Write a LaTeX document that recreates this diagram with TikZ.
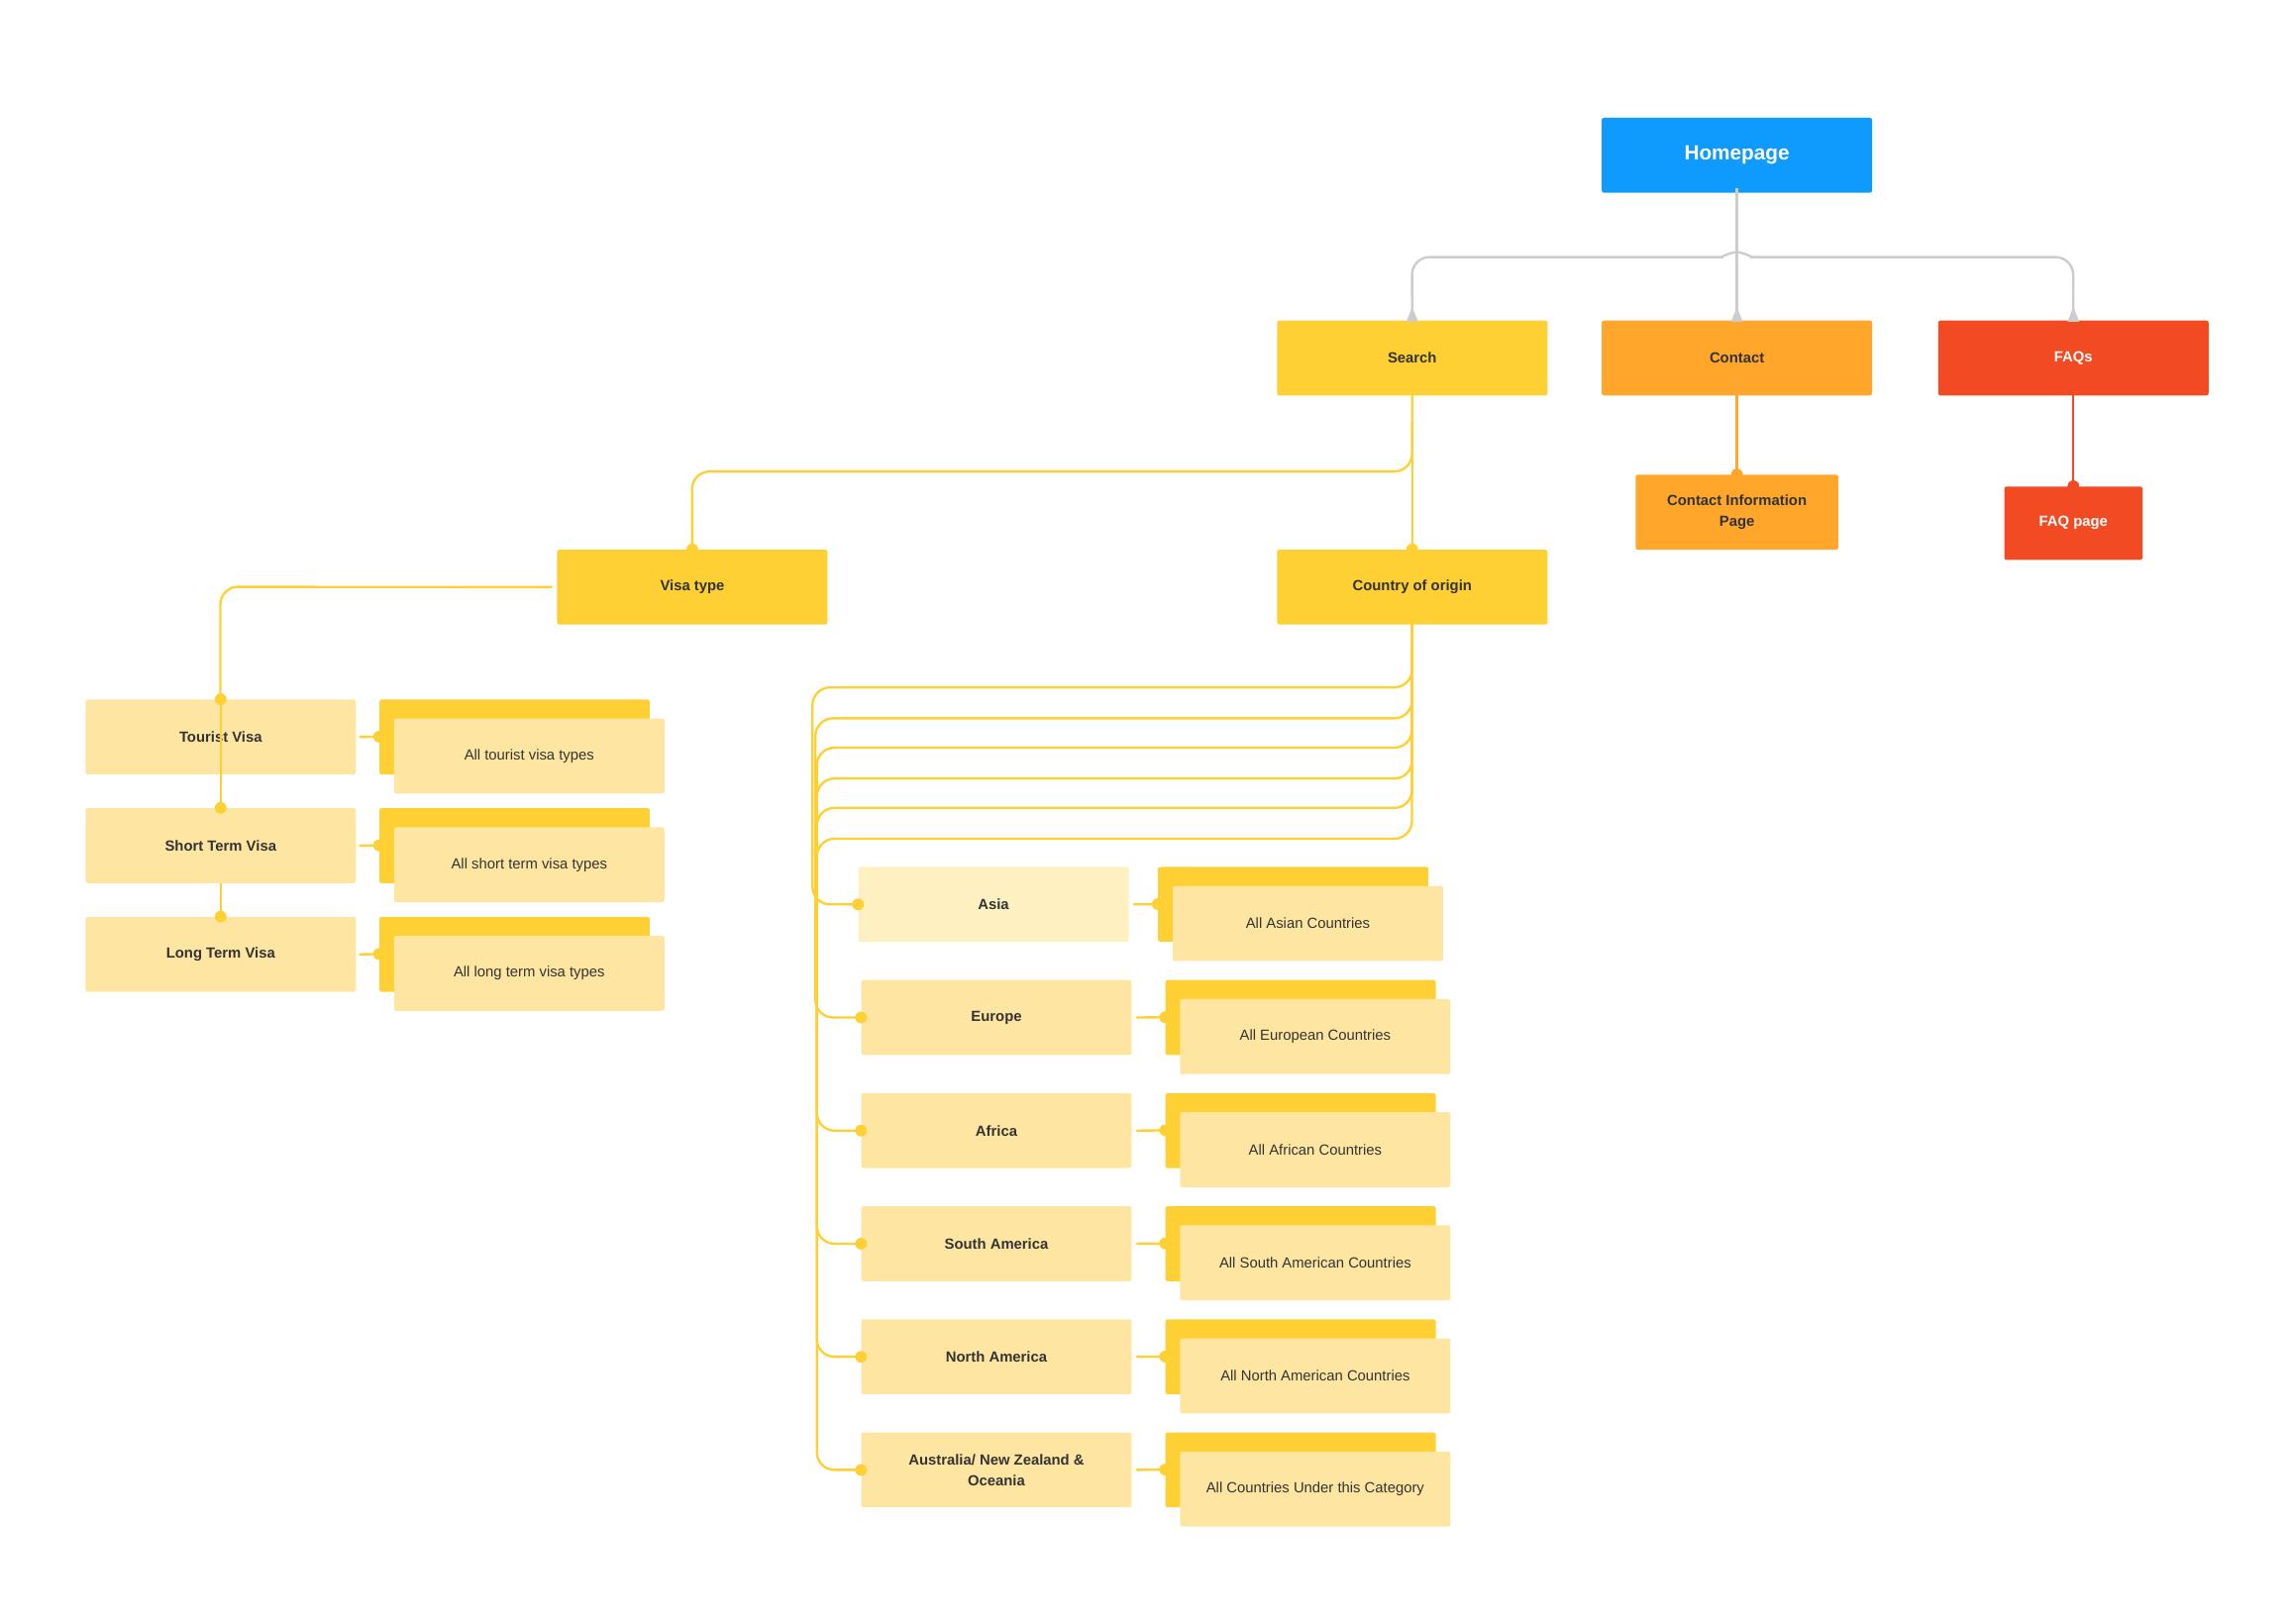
\documentclass[tikz,border=0pt]{standalone}
\usepackage{fontspec}
\setmainfont{Liberation Sans}
\definecolor{blu}{HTML}{0F9BFD}
\definecolor{ylw}{HTML}{FFD033}
\definecolor{org}{HTML}{FFA62B}
\definecolor{rd}{HTML}{F24B23}
\definecolor{pale}{HTML}{FEE6A2}
\definecolor{paler}{HTML}{FEF0C0}
\definecolor{grl}{HTML}{CCCCCC}
\definecolor{txt}{HTML}{333333}
\begin{document}
\begin{tikzpicture}[x=1pt,y=-1pt,
  box/.style={rectangle,rounded corners=1.5pt,minimum width=184pt,minimum height=51pt,inner sep=0pt,anchor=north west,align=center,font=\fontsize{10}{14}\selectfont\bfseries,text=txt},
  card/.style={box,font=\fontsize{10}{14}\selectfont,fill=pale},
  yl/.style={draw=ylw,line width=1.6pt,rounded corners=12pt},
  gl/.style={draw=grl,line width=1.6pt,rounded corners=12pt},
  dotc/.style={circle,fill=#1,inner sep=0pt,minimum size=8pt}]
\useasboundingbox (0,0) rectangle (1560,1105.6);
% top
\node[box,fill=blu,text=white,font=\fontsize{14}{16}\selectfont\bfseries] (home) at (1090,80) {Homepage};
\node[box,fill=ylw] (search) at (869,218) {Search};
\node[box,fill=org] (contact) at (1090,218) {Contact};
\node[box,fill=rd,text=white] (faq) at (1319,218) {FAQs};
\node[box,fill=org,minimum width=138pt] (cip) at (1113,323) {Contact Information\\Page};
\node[box,fill=rd,text=white,minimum width=94pt,minimum height=50pt] (faqp) at (1364,331) {FAQ page};
\coordinate (hb) at ([yshift=3pt]home.south);
\draw[gl] (hb) -- (1182,160) to[out=-90,in=0] (1160,175) -- (961,175) -- (search.north);
\draw[gl] (hb) -- (1182,160) to[out=-90,in=180] (1204,175) -- (1411,175) -- (faq.north);
\draw[gl] (hb) -- (contact.north);
\foreach \n in {search,contact,faq}
  \fill[grl] ([yshift=-1pt]\n.north) -- ++(-4,0) -- ++(4,-10) -- ++(4,10) -- cycle;
\draw[draw=org,line width=1.6pt] ([yshift=3pt]contact.south) -- (cip.north);
\node[dotc=org] at (cip.north) {};
\draw[draw=rd,line width=1.6pt] ([yshift=3pt]faq.south) -- (faqp.north);
\node[dotc=rd] at (faqp.north) {};
% level 2
\node[box,fill=ylw] (visa) at (379,374) {Visa type};
\node[box,fill=ylw] (coo) at (869,374) {Country of origin};
\draw[yl] ([yshift=3pt]search.south) -- (coo.north);
\draw[yl] ([yshift=3pt]search.south) -- (961,321) -- (471,321) -- (visa.north);
\node[dotc=ylw] at (coo.north) {};
\node[dotc=ylw] at (visa.north) {};
% visa types
\node[box,fill=pale] (tour) at (58,476) {Tourist Visa};
\node[box,fill=pale] (short) at (58,550) {Short Term Visa};
\node[box,fill=pale] (long) at (58,624) {Long Term Visa};
\draw[yl] ([xshift=-3pt]visa.west) -- (150,399.5) -- (150,476);
\draw[yl] (tour.north) -- (short.north);
\draw[yl] (short.south) -- (long.north);
\foreach \n in {tour,short,long} \node[dotc=ylw] at (\n.north) {};
\foreach \n/\t/\y in {tour/All tourist visa types/476,short/All short term visa types/550,long/All long term visa types/624}{
  \node[box,fill=ylw] (b\n) at (258,\y) {};
  \node[card] (f\n) at (268,\y+13) {\t};
  \coordinate (c\n) at (258,\y+25.5);
  \draw[yl] ([xshift=2pt]\n.east) -- (c\n);
  \node[dotc=ylw] at (c\n) {};
}
% regions
\node[box,fill=paler] (asia) at (584,590) {Asia};
\node[box,fill=pale] (eur) at (586,667) {Europe};
\node[box,fill=pale] (afr) at (586,744) {Africa};
\node[box,fill=pale] (sam) at (586,821) {South America};
\node[box,fill=pale] (nam) at (586,898) {North America};
\node[box,fill=pale] (aus) at (586,975) {Australia/ New Zealand \&\\Oceania};
\foreach \n/\h/\xv/\d in {asia/468/553/31,eur/489/555/31,afr/509/556/30,sam/530/556/30,nam/550/556/30,aus/571/556/30}{
  \draw[yl] ([yshift=3pt]coo.south) -- (961,\h) -- (\xv,\h) -- ([xshift=-\d pt]\n.west) -- (\n.west);
  \node[dotc=ylw] at (\n.west) {};
}
\foreach \n/\t/\x/\y in {asia/All Asian Countries/788/590,eur/All European Countries/793/667,afr/All African Countries/793/744,sam/All South American Countries/793/821,nam/All North American Countries/793/898,aus/All Countries Under this Category/793/975}{
  \node[box,fill=ylw] (b\n) at (\x,\y) {};
  \node[card] (f\n) at (\x+10,\y+13) {\t};
  \coordinate (c\n) at (\x,\y+25.5);
  \draw[yl] ([xshift=3pt]\n.east) -- (c\n);
  \node[dotc=ylw] at (c\n) {};
}
\end{tikzpicture}
\end{document}
